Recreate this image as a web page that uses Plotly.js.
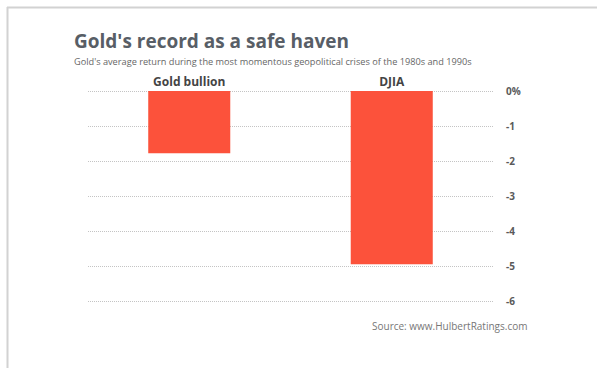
<!DOCTYPE html>
<html>
<head>
<meta charset="utf-8">
<script src="https://cdn.plot.ly/plotly-3.0.1.min.js"></script>
<style>html,body{margin:0;padding:0;background:#fff;}#chart{width:597px;height:368px;}</style>
</head>
<body>
<div id="chart"></div>
<script>
const categories = ["Gold bullion", "DJIA"];
const returns = [-1.78, -4.95];
const tickValues = [0, -1, -2, -3, -4, -5, -6];
const tickLabels = ["0%", "-1", "-2", "-3", "-4", "-5", "-6"];

const W = 597, H = 368;
const L = 88, R = 104, T = 84, B = 60;
const pw = W - L - R, ph = H - T - B;
const px = x => (x - L) / pw;
const py = y => (H - B - y) / ph;

const data = [{
  type: "bar",
  x: categories,
  y: returns,
  width: 0.405,
  marker: {color: "#fc523b"},
  hoverinfo: "skip"
}];

const layout = {
  width: W, height: H,
  margin: {l: L, r: R, t: T, b: B, pad: 0},
  paper_bgcolor: "#fff",
  plot_bgcolor: "#fff",
  showlegend: false,
  font: {family: "Open Sans", color: "#555"},
  xaxis: {
    side: "top",
    range: [-0.5, 1.5],
    showgrid: false, zeroline: false, showline: false,
    ticks: "",
    tickfont: {family: "Open Sans", size: 12, color: "#444", weight: "bold"},
    ticklabelstandoff: -5
  },
  yaxis: {
    side: "right",
    range: [-6.2, 0.2],
    tickvals: tickValues,
    ticktext: tickLabels,
    showgrid: true,
    gridcolor: "#c4c4c4",
    griddash: "1px,1px",
    gridwidth: 1,
    zeroline: false,
    showline: false,
    ticks: "",
    ticklabelstandoff: 12,
    tickfont: {family: "Open Sans", size: 10, color: "#5a5a5a", weight: "bold"}
  },
  annotations: [
    {text: "Gold's record as a safe haven", xref: "paper", yref: "paper",
     x: px(72), y: py(41), xanchor: "left", yanchor: "middle", showarrow: false,
     font: {family: "Open Sans", size: 19, color: "#585e66", weight: "bold"}},
    {text: "Gold's average return during the most momentous geopolitical crises of the 1980s and 1990s",
     xref: "paper", yref: "paper", x: px(72), y: py(61), xanchor: "left", yanchor: "middle", showarrow: false,
     font: {family: "Open Sans", size: 9.2, color: "#666"}},
    {text: "Source: www.HulbertRatings.com", xref: "paper", yref: "paper",
     x: px(529), y: py(326), xanchor: "right", yanchor: "middle", showarrow: false,
     font: {family: "Open Sans", size: 10, color: "#777"}}
  ],
  shapes: [
    {type: "line", xref: "paper", yref: "paper", x0: px(7), x1: px(600), y0: py(7.5), y1: py(7.5),
     line: {color: "#d2d2d2", width: 2}},
    {type: "line", xref: "paper", yref: "paper", x0: px(7.5), x1: px(7.5), y0: py(7), y1: py(370),
     line: {color: "#d2d2d2", width: 2}}
  ]
};

Plotly.newPlot("chart", data, layout, {displayModeBar: false, staticPlot: true});
</script>
</body>
</html>
